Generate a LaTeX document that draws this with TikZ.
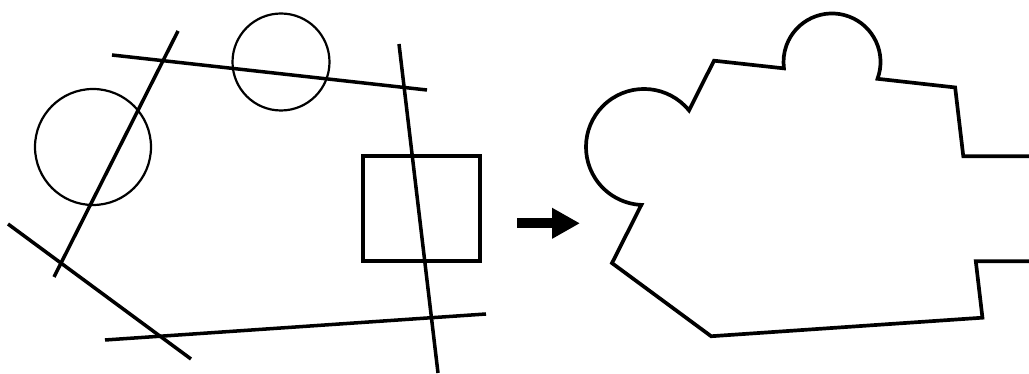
\documentclass[tikz,border=0pt]{standalone}
\usetikzlibrary{arrows.meta}
\begin{document}
\begin{tikzpicture}[x=0.02cm,y=-0.02cm,
    cutline/.style={line width=2pt,line cap=butt},
    ring/.style={line width=1.25pt},
    box/.style={line width=2.3pt},
    outline/.style={line width=2.1pt,line join=miter},
    bigarrow/.style={line width=0.2cm,-{Triangle[length=0.56cm,width=0.58cm]}}]
  \useasboundingbox (0,0) rectangle (1029,374);
  % five cutting lines
  \draw[cutline] (178,31) -- (54,277);
  \draw[cutline] (112,55) -- (427,90);
  \draw[cutline] (399,44) -- (438,373);
  \draw[cutline] (8,224) -- (191,359);
  \draw[cutline] (105,340) -- (486,314);
  % circles and box
  \draw[ring] (93,147) circle[radius=58];
  \draw[ring] (281,62) circle[radius=48.5];
  \draw[box] (363,156.3) rectangle (480.3,261.3);
  % arrow
  \coordinate (from) at (517,223.3);
  \coordinate (to) at (580,223.3);
  \draw[bigarrow] (from) -- (to);
  % outline of the region
  \draw[outline] (1029,156.3) -- (963.3,156.3) -- (955.15,87.46) -- (877.5,78.8)
    arc[start angle=20.3,end angle=-187.6,radius=48.5] -- (714,60.7) -- (689,110.4)
    arc[start angle=-39.1,end angle=-267.4,radius=58] -- (612,263.1)
    -- (711.15,336.24) -- (982.45,317.7) -- (975.8,261.3) -- (1029,261.3);
\end{tikzpicture}
\end{document}
